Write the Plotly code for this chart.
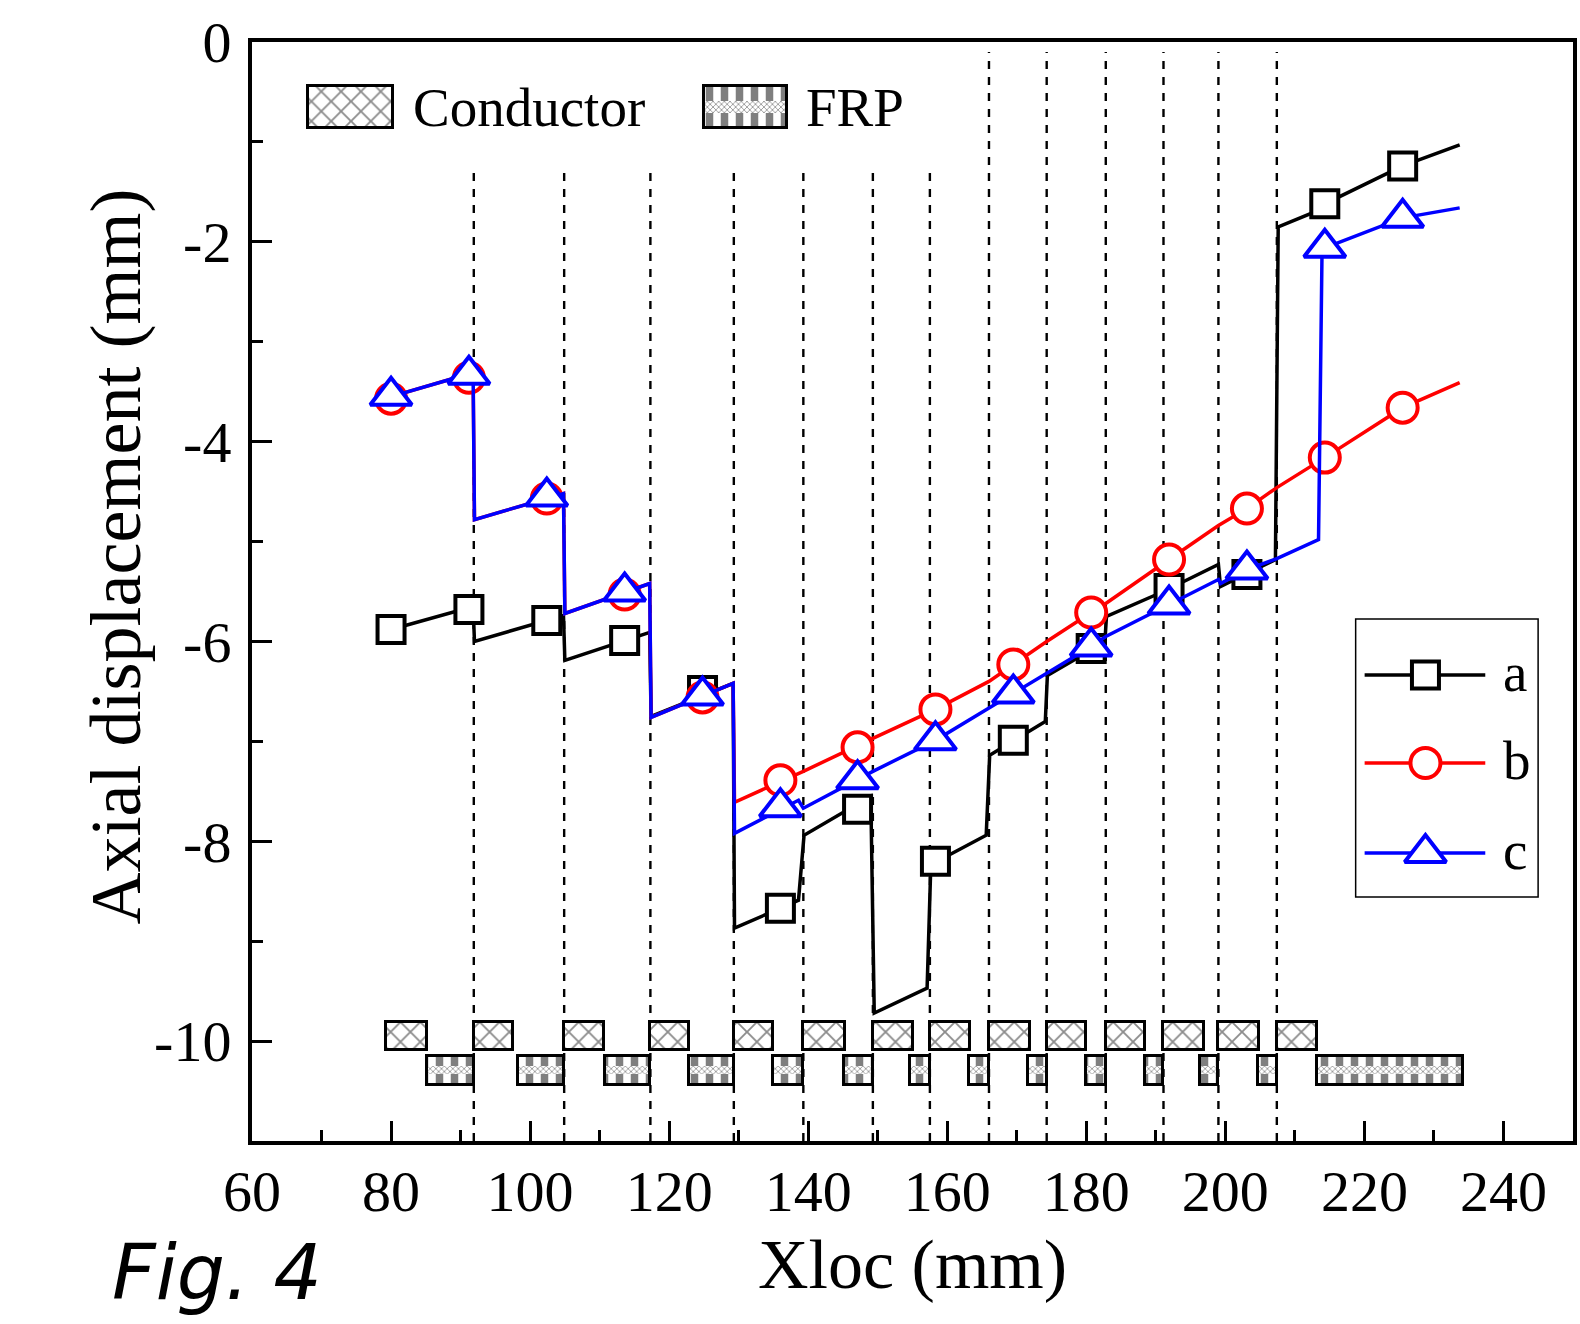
import plotly.graph_objects as go

# ---------------- data ----------------
# curve a (black, squares)
a_x = [80.0, 91.8, 92.0, 104.8, 105.0, 117.2, 117.4, 129.2, 129.4, 138.6, 139.4, 149.0,
       149.5, 157.1, 157.6, 158.3, 165.6, 166.1, 174.1, 174.4, 178.1, 180.7, 182.7, 182.9,
       191.1, 199.0, 199.3, 203.1, 207.2, 207.6, 212.5, 214.3, 225.5, 233.7]
a_y = [-5.88, -5.65, -6.00, -5.74, -6.19, -5.91, -6.75, -6.42, -8.87, -8.59, -7.94, -7.55,
       -9.72, -9.47, -8.32, -8.21, -7.94, -7.14, -6.80, -6.34, -6.19, -6.07, -5.97, -5.75,
       -5.50, -5.23, -5.45, -5.32, -5.18, -1.85, -1.71, -1.62, -1.24, -1.03]

# curve b (red, circles)
b_x = [80.0, 91.8, 92.0, 104.8, 105.0, 117.2, 117.4, 129.2, 129.4, 139.3, 149.3, 158.3,
       166.0, 169.5, 174.3, 180.7, 182.8, 191.9, 199.0, 203.1, 207.4, 214.3, 225.5, 233.7]
b_y = [-3.55, -3.31, -4.78, -4.52, -5.72, -5.42, -6.76, -6.42, -7.61, -7.30, -6.97, -6.68,
       -6.40, -6.23, -6.00, -5.71, -5.62, -5.18, -4.84, -4.67, -4.46, -4.16, -3.66, -3.41]

# curve c (blue, triangles)
c_x = [80.0, 91.8, 92.0, 104.8, 105.0, 117.2, 117.4, 129.2, 129.4, 138.6, 139.3, 147.1,
       149.3, 158.3, 166.0, 169.5, 174.3, 180.7, 182.8, 191.9, 199.0, 199.3, 203.1, 207.4,
       213.4, 213.9, 214.3, 225.5, 233.7]
c_y = [-3.55, -3.31, -4.78, -4.52, -5.72, -5.42, -6.76, -6.42, -7.92, -7.59, -7.67, -7.38,
       -7.30, -6.99, -6.67, -6.52, -6.32, -6.05, -5.95, -5.63, -5.38, -5.42, -5.28, -5.17,
       -4.98, -2.11, -2.06, -1.76, -1.66]

# marker positions
mk_x = [80.0, 91.2, 102.4, 113.6, 124.8, 136.0, 147.1, 158.3, 169.5, 180.7, 191.9, 203.1, 214.3, 225.5]
a_mk = [-5.88, -5.68, -5.79, -5.99, -6.49, -8.67, -7.68, -8.20, -6.99, -6.07, -5.47, -5.33, -1.62, -1.24]
b_mk = [-3.57, -3.36, -4.57, -5.53, -6.56, -7.39, -7.06, -6.68, -6.23, -5.71, -5.18, -4.67, -4.16, -3.66]
c_mk = [-3.54, -3.33, -4.55, -5.50, -6.54, -7.66, -7.38, -6.99, -6.52, -6.05, -5.63, -5.28, -2.06, -1.76]

# material interfaces (dashed lines) and their upper ends
interfaces = [91.9, 104.9, 117.3, 129.3, 139.3, 149.3, 157.5, 166.0, 174.3, 182.8, 191.1, 199.0, 207.4]
interface_top = [-1.24, -1.24, -1.24, -1.24, -1.24, -1.24, -1.24, -0.1, -0.1, -0.1, -0.1, -0.1, -0.1]

# layer blocks
cond_start = [79.3, 91.9, 104.9, 117.3, 129.3, 139.3, 149.3, 157.5, 166.0, 174.3, 182.8, 191.1, 199.0, 207.4]
cond_end = [85.1, 97.6, 110.6, 122.9, 135.0, 145.3, 155.0, 163.3, 171.9, 180.0, 188.5, 196.9, 204.8, 213.2]
frp_start = [85.1, 98.2, 110.7, 122.9, 135.0, 145.2, 154.6, 163.1, 171.6, 180.0, 188.4, 196.3, 204.7, 213.2]
frp_end = [91.9, 104.9, 117.3, 129.3, 139.3, 149.3, 157.5, 166.0, 174.3, 182.8, 191.1, 199.0, 207.4, 234.2]
cond_lo, cond_hi = -10.09, -9.81
frp_lo, frp_hi = -10.44, -10.15
frp_band_lo, frp_band_hi = -10.33, -10.25

x_ticks = [60, 80, 100, 120, 140, 160, 180, 200, 220, 240]
x_minor = [70, 90, 110, 130, 150, 170, 190, 210, 230]
y_ticks = [0, -2, -4, -6, -8, -10]
y_ticktext = ["0", "-2", "-4", "-6", "-8", "-10"]
y_minor = [-1, -3, -5, -7, -9]

series_names = ["a", "b", "c"]

# ---------------- styling / layout ----------------
W, H = 1580, 1324
L, R, T, B = 252, 3, 42, 183
SERIF = "Liberation Serif"
COLORS = ["#000000", "#ff0000", "#0000ff"]
SYMBOLS = ["square", "circle", "triangle-up"]
MSIZES = [27, 30, 36]
LW = 3.5
MLW = 4

def px2paper_x(px):
    return (px - L) / (W - L - R)

def px2paper_y(py):
    return (H - B - py) / (H - T - B)

fig = go.Figure()

# --- blocks ---
def centers(s, e):
    return [(a + b) / 2 for a, b in zip(s, e)]

def widths(s, e):
    return [b - a for a, b in zip(s, e)]

cond_pattern = dict(shape="x", size=14, solidity=0.25, fgcolor="#1a1a1a", bgcolor="white")
frp_pattern = dict(shape="|", size=15, solidity=0.5, fgcolor="black", bgcolor="white")
band_pattern = dict(shape="x", size=4, solidity=0.4, fgcolor="#333333", bgcolor="white")

fig.add_trace(go.Bar(x=centers(cond_start, cond_end), width=widths(cond_start, cond_end),
                     y=[cond_hi - cond_lo] * len(cond_start), base=[cond_lo] * len(cond_start),
                     marker=dict(color="white", pattern=cond_pattern, line=dict(color="black", width=3)),
                     showlegend=False, hoverinfo="skip"))
fig.add_trace(go.Bar(x=centers(frp_start, frp_end), width=widths(frp_start, frp_end),
                     y=[frp_hi - frp_lo] * len(frp_start), base=[frp_lo] * len(frp_start),
                     marker=dict(color="white", pattern=frp_pattern, line=dict(width=0)),
                     showlegend=False, hoverinfo="skip"))
fig.add_trace(go.Bar(x=centers(frp_start, frp_end), width=widths(frp_start, frp_end),
                     y=[frp_band_hi - frp_band_lo] * len(frp_start), base=[frp_band_lo] * len(frp_start),
                     marker=dict(color="white", pattern=band_pattern, line=dict(width=0)),
                     showlegend=False, hoverinfo="skip"))
fig.add_trace(go.Bar(x=centers(frp_start, frp_end), width=widths(frp_start, frp_end),
                     y=[frp_hi - frp_lo] * len(frp_start), base=[frp_lo] * len(frp_start),
                     marker=dict(color="rgba(0,0,0,0)", line=dict(color="black", width=3)),
                     showlegend=False, hoverinfo="skip"))

# --- curves ---
for xs, ys, mys, col, sym, ms in zip([a_x, b_x, c_x], [a_y, b_y, c_y], [a_mk, b_mk, c_mk],
                                     COLORS, SYMBOLS, MSIZES):
    fig.add_trace(go.Scatter(x=xs, y=ys, mode="lines", line=dict(color=col, width=LW),
                             showlegend=False, hoverinfo="skip"))
    fig.add_trace(go.Scatter(x=mk_x, y=mys, mode="markers",
                             marker=dict(symbol=sym, size=ms, color="white",
                                         line=dict(color=col, width=MLW)),
                             showlegend=False, hoverinfo="skip"))

# --- dashed interface lines ---
shapes = []
for xi, yt in zip(interfaces, interface_top):
    shapes.append(dict(type="line", xref="x", yref="y", x0=xi, x1=xi, y0=-11, y1=yt,
                       line=dict(color="black", width=2.4, dash="8px,8px"), layer="below"))

# --- manual legends on a pixel overlay axis (x2/y2) ---
# right legend (series)
leg_box = (1359, 619, 1542, 897)
leg_line_x = (1368, 1489)
leg_mark_x = 1429
leg_rows_y = [675, 763, 853]
leg_text_x = 1505
shapes.append(dict(type="rect", xref="x2", yref="y2", x0=leg_box[0], x1=leg_box[2],
                   y0=leg_box[1], y1=leg_box[3], line=dict(color="black", width=1.5),
                   fillcolor="rgba(0,0,0,0)", layer="above"))
for ry, col, sym, ms in zip(leg_rows_y, COLORS, SYMBOLS, MSIZES):
    fig.add_trace(go.Scatter(x=list(leg_line_x), y=[ry, ry], xaxis="x2", yaxis="y2", mode="lines",
                             line=dict(color=col, width=LW), showlegend=False, hoverinfo="skip"))
    fig.add_trace(go.Scatter(x=[leg_mark_x], y=[ry], xaxis="x2", yaxis="y2", mode="markers",
                             marker=dict(symbol=sym, size=ms, color="white", line=dict(color=col, width=MLW)),
                             showlegend=False, hoverinfo="skip"))

# top legend (materials)
cond_box = (308, 86, 393, 128)
frp_box = (705, 86, 789, 128)
fig.add_trace(go.Bar(x=[(cond_box[0] + cond_box[2]) / 2], width=[cond_box[2] - cond_box[0]],
                     y=[cond_box[3] - cond_box[1]], base=[cond_box[1]], xaxis="x2", yaxis="y2",
                     marker=dict(color="white", pattern=cond_pattern, line=dict(color="black", width=3)),
                     showlegend=False, hoverinfo="skip"))
fig.add_trace(go.Bar(x=[(frp_box[0] + frp_box[2]) / 2], width=[frp_box[2] - frp_box[0]],
                     y=[frp_box[3] - frp_box[1]], base=[frp_box[1]], xaxis="x2", yaxis="y2",
                     marker=dict(color="white", pattern=frp_pattern, line=dict(width=0)),
                     showlegend=False, hoverinfo="skip"))
fig.add_trace(go.Bar(x=[(frp_box[0] + frp_box[2]) / 2], width=[frp_box[2] - frp_box[0]],
                     y=[12], base=[101], xaxis="x2", yaxis="y2",
                     marker=dict(color="white", pattern=band_pattern, line=dict(width=0)),
                     showlegend=False, hoverinfo="skip"))
fig.add_trace(go.Bar(x=[(frp_box[0] + frp_box[2]) / 2], width=[frp_box[2] - frp_box[0]],
                     y=[frp_box[3] - frp_box[1]], base=[frp_box[1]], xaxis="x2", yaxis="y2",
                     marker=dict(color="rgba(0,0,0,0)", line=dict(color="black", width=3)),
                     showlegend=False, hoverinfo="skip"))

annotations = []
for ry, name in zip(leg_rows_y, series_names):
    annotations.append(dict(xref="x2", yref="y2", x=leg_text_x, y=ry - 3, text=name, showarrow=False,
                            xanchor="left", yanchor="middle", font=dict(family=SERIF, size=55, color="black")))
annotations.append(dict(xref="x2", yref="y2", x=411, y=107, text="Conductor", showarrow=False,
                        xanchor="left", yanchor="middle", font=dict(family=SERIF, size=55, color="black")))
annotations.append(dict(xref="x2", yref="y2", x=806, y=107, text="FRP", showarrow=False,
                        xanchor="left", yanchor="middle", font=dict(family=SERIF, size=55, color="black")))

# axis titles and figure label
annotations.append(dict(xref="paper", yref="paper", x=px2paper_x(116), y=px2paper_y(556),
                        text="Axial displacement (mm)", textangle=-90, showarrow=False,
                        xanchor="center", yanchor="middle", font=dict(family=SERIF, size=72, color="black")))
annotations.append(dict(xref="paper", yref="paper", x=px2paper_x(915), y=px2paper_y(1264),
                        text="Xloc (mm)", showarrow=False,
                        xanchor="center", yanchor="middle", font=dict(family=SERIF, size=70, color="black")))
annotations.append(dict(xref="paper", yref="paper", x=px2paper_x(110), y=px2paper_y(1319),
                        text="Fig. 4", showarrow=False,
                        xanchor="left", yanchor="bottom",
                        font=dict(family="DejaVu Sans", size=76, color="black", style="italic")))

axis_common = dict(showgrid=False, zeroline=False, showline=True, linecolor="black", linewidth=4,
                   mirror=True, ticks="inside", ticklen=20, tickwidth=3, tickcolor="black",
                   tickfont=dict(family=SERIF, size=58, color="black"))

fig.update_layout(
    width=W, height=H,
    margin=dict(l=L, r=R, t=T, b=B),
    paper_bgcolor="white", plot_bgcolor="white",
    barmode="overlay", bargap=0,
    showlegend=False,
    xaxis=dict(range=[60, 250], tickmode="array", tickvals=x_ticks, ticklabelstandoff=-4,
               minor=dict(tickmode="array", tickvals=x_minor, ticks="inside", ticklen=11,
                          tickwidth=3, tickcolor="black"),
               **axis_common),
    yaxis=dict(range=[-11, 0], tickmode="array", tickvals=y_ticks, ticktext=y_ticktext,
               ticklabelstandoff=5,
               minor=dict(tickmode="array", tickvals=y_minor, ticks="inside", ticklen=11,
                          tickwidth=3, tickcolor="black"),
               **axis_common),
    xaxis2=dict(range=[L, W - R], overlaying="x", visible=False, fixedrange=True),
    yaxis2=dict(range=[H - B, T], overlaying="y", visible=False, fixedrange=True),
    shapes=shapes,
    annotations=annotations,
)

fig.write_html("out.html", config={"displayModeBar": False},
               post_script="document.body.style.margin='0';document.body.style.overflow='hidden';")
